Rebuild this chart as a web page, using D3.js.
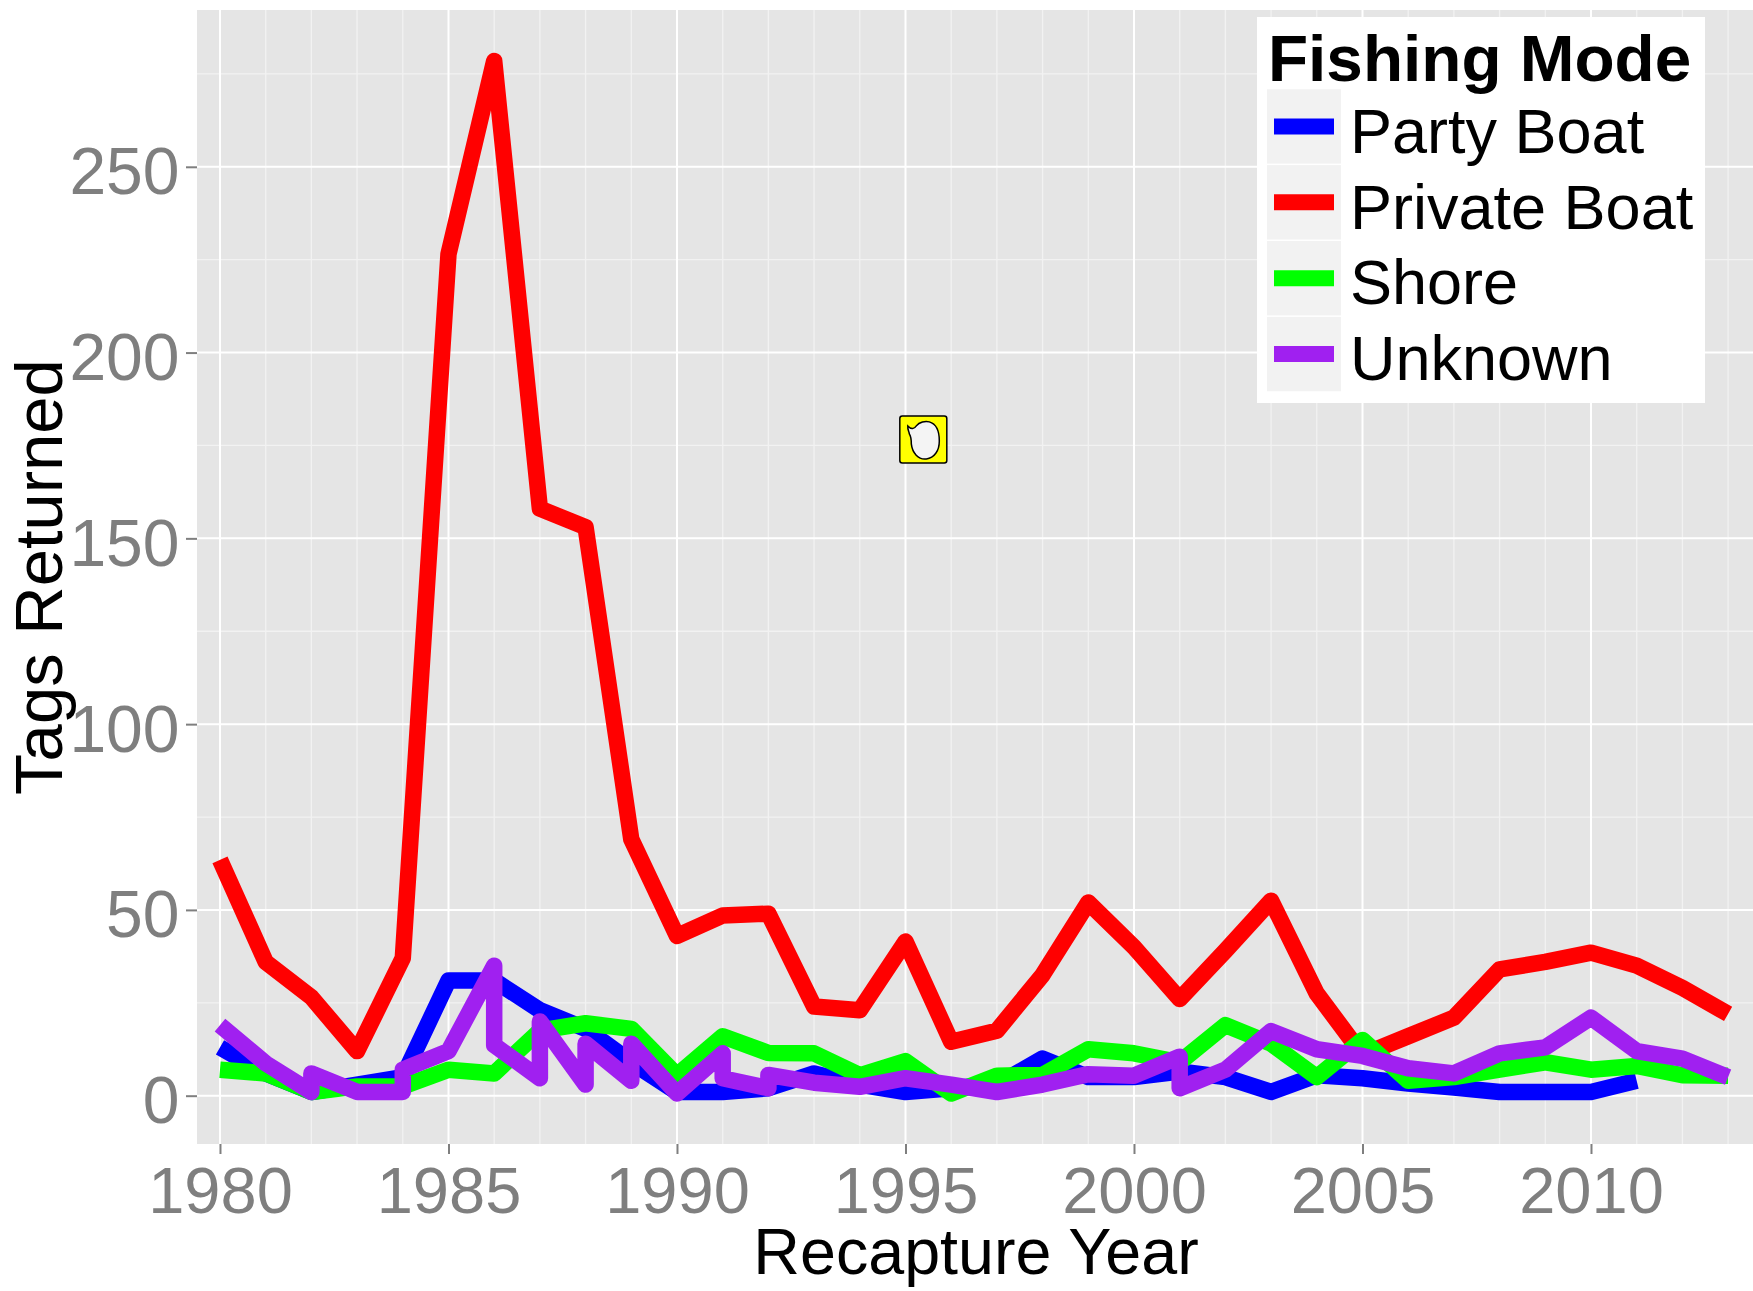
<!DOCTYPE html>
<html>
<head>
<meta charset="utf-8">
<script src="https://cdn.jsdelivr.net/npm/d3@7"></script>
<style>
  body { margin: 0; background: #fff; }
  text { font-family: "Liberation Sans", Arial, sans-serif; }
</style>
</head>
<body>
<div id="chart"></div>
<script>
const years = d3.range(1980, 2014);
const xTicks = [1980, 1985, 1990, 1995, 2000, 2005, 2010];
const yTicks = [0, 50, 100, 150, 200, 250];
const yMinor = [25, 75, 125, 175, 225, 275];
const modes = ['Party Boat', 'Private Boat', 'Shore', 'Unknown'];
const colors = ['#0000ff', '#ff0000', '#00ff00', '#a020f0'];

const partyYears = d3.range(1980, 2012);
const partyBoat = [13, 6, 1, 3, 5, 31, 31, 23, 18, 9, 1, 1, 2, 6, 3, 1, 2, 3, 10, 5, 5, 6.5, 5, 1, 5.5, 4.7, 3.3, 2.2, 1, 1, 1, 4];
const privateBoat = [63.5, 36, 26.5, 12, 37, 226.5, 278.5, 158, 153, 69, 43, 48.5, 49, 24, 23, 41.5, 14.5, 17.5, 32.5, 52, 40, 26, 39, 52.5, 27.5, 11, 16, 21, 34, 36, 38.5, 35, 29, 22];
const shore = [7, 6, 1, 2.5, 2.5, 7, 6, 17.5, 19.5, 18, 5.5, 16, 11.5, 11.4, 5.5, 9.3, 0.6, 5.4, 5.6, 12.5, 11.4, 9, 19, 14, 5, 15, 4, 5, 7, 9, 7, 8, 5.5, 5.4];
// Unknown has two rows for some years, so the line doubles back on itself
const unknownYears = [1980, 1981, 1982, 1982, 1983, 1984, 1984, 1985, 1986, 1986, 1987, 1987, 1988, 1988, 1989, 1989, 1990, 1991, 1991, 1992, 1992, 1993, 1994, 1995, 1996, 1997, 1998, 1999, 2000, 2001, 2001, 2002, 2003, 2004, 2005, 2006, 2007, 2008, 2009, 2010, 2011, 2012, 2013];
const unknown = [19, 8.7, 1, 6, 1, 1, 7, 12, 35, 13.6, 4.7, 20, 3, 14, 4, 14, 0.6, 11.4, 4.7, 2, 5.6, 3.5, 2.4, 4.7, 3, 1, 3, 5.8, 5.4, 10.5, 2, 7, 17.4, 12.5, 10.7, 7.4, 6, 11.4, 13, 21, 12, 10, 5];

const width = 1753;
const height = 1291;
const panel = { left: 197, right: 1753, top: 10, bottom: 1144 };

const svg = d3.select('#chart')
  .append('svg')
  .attr('width', width)
  .attr('height', height)
  .style('display', 'block');

const x = d3.scaleLinear()
  .domain([1979.497, 2013.545])
  .range([panel.left, panel.right]);

const y = d3.scaleLinear()
  .domain([-13, 292.2])
  .range([panel.bottom, panel.top]);

svg.append('rect')
  .attr('x', panel.left)
  .attr('y', panel.top)
  .attr('width', panel.right - panel.left)
  .attr('height', panel.bottom - panel.top)
  .attr('fill', '#e5e5e5');

// minor grid
svg.append('g').selectAll('line')
  .data(years.filter(d => !xTicks.includes(d)))
  .join('line')
    .attr('x1', d => x(d)).attr('x2', d => x(d))
    .attr('y1', panel.top).attr('y2', panel.bottom)
    .attr('stroke', '#f2f2f2').attr('stroke-width', 1.3);

svg.append('g').selectAll('line')
  .data(yMinor)
  .join('line')
    .attr('x1', panel.left).attr('x2', panel.right)
    .attr('y1', d => y(d)).attr('y2', d => y(d))
    .attr('stroke', '#f2f2f2').attr('stroke-width', 1.3);

// major grid
svg.append('g').selectAll('line')
  .data(xTicks)
  .join('line')
    .attr('x1', d => x(d)).attr('x2', d => x(d))
    .attr('y1', panel.top).attr('y2', panel.bottom)
    .attr('stroke', '#fff').attr('stroke-width', 2);

svg.append('g').selectAll('line')
  .data(yTicks)
  .join('line')
    .attr('x1', panel.left).attr('x2', panel.right)
    .attr('y1', d => y(d)).attr('y2', d => y(d))
    .attr('stroke', '#fff').attr('stroke-width', 2);

// axes
function xAxis(g) {
  g.attr('transform', `translate(0,${panel.bottom})`)
    .call(d3.axisBottom(x).tickValues(xTicks).tickFormat(d3.format('d')).tickSize(10).tickPadding(13))
    .call(g => g.select('.domain').remove());
  g.selectAll('line').attr('stroke', '#7f7f7f').attr('stroke-width', 2);
  g.selectAll('text').attr('fill', '#7f7f7f').attr('font-size', 65).attr('font-family', '"Liberation Sans", Arial, sans-serif');
}

function yAxis(g) {
  g.attr('transform', `translate(${panel.left},0)`)
    .call(d3.axisLeft(y).tickValues(yTicks).tickSize(11).tickPadding(6.5))
    .call(g => g.select('.domain').remove());
  g.selectAll('line').attr('stroke', '#7f7f7f').attr('stroke-width', 2);
  g.selectAll('text').attr('fill', '#7f7f7f').attr('font-size', 66).attr('font-family', '"Liberation Sans", Arial, sans-serif').attr('dy', '0.41em');
}

svg.append('g').call(xAxis);
svg.append('g').call(yAxis);

// series, drawn in legend order
const seriesYears = [partyYears, years, years, unknownYears];
const seriesValues = [partyBoat, privateBoat, shore, unknown];

const line = d3.line()
  .x(d => x(d[0]))
  .y(d => y(d[1]));

svg.append('g').selectAll('path')
  .data(modes)
  .join('path')
    .attr('d', (d, i) => line(d3.zip(seriesYears[i], seriesValues[i])))
    .attr('fill', 'none')
    .attr('stroke', (d, i) => colors[i])
    .attr('stroke-width', 16.5)
    .attr('stroke-linejoin', 'round')
    .attr('stroke-linecap', 'butt');

// axis titles
svg.append('text')
  .attr('x', 976)
  .attr('y', 1274)
  .attr('text-anchor', 'middle')
  .attr('font-size', 64.6)
  .text('Recapture Year');

svg.append('text')
  .attr('transform', 'translate(62,577) rotate(-90)')
  .attr('text-anchor', 'middle')
  .attr('font-size', 67)
  .text('Tags Returned');

// yellow speech bubble sitting on the plot
const bubble = svg.append('g')
  .attr('transform', `translate(${x(1995.39)},${y(176.5)})`);

bubble.append('rect')
  .attr('x', -23.5).attr('y', -24)
  .attr('width', 47).attr('height', 47)
  .attr('rx', 2.5)
  .attr('fill', '#ffff00')
  .attr('stroke', '#000')
  .attr('stroke-width', 1.5);

bubble.append('path')
  .attr('d', 'M-15.5,-14 C-12,-10 -9,-11 -7,-14 C-4,-18 2,-19 6,-18 C13,-16 16,-8 16,1 C16,11 11,18 3,19 C-5,20 -11,13 -12,4 C-12,-1 -12,-3 -14,-6 C-14,-8 -16,-10 -15.5,-14 Z')
  .attr('fill', '#f4f4f4')
  .attr('stroke', '#000')
  .attr('stroke-width', 1.5);

// legend
const legend = svg.append('g');

legend.append('rect')
  .attr('x', 1257).attr('y', 17)
  .attr('width', 448).attr('height', 386)
  .attr('fill', '#fff');

legend.append('text')
  .attr('x', 1268).attr('y', 81)
  .attr('font-size', 65.7)
  .attr('font-weight', 'bold')
  .text('Fishing Mode');

const keyTop = d3.scaleBand()
  .domain(modes)
  .range([88.5, 392]);

const rows = legend.selectAll('g.row')
  .data(modes)
  .join('g')
    .attr('class', 'row')
    .attr('transform', d => `translate(0,${keyTop(d)})`);

rows.append('rect')
  .attr('x', 1267)
  .attr('width', 74)
  .attr('y', 0.75)
  .attr('height', keyTop.bandwidth() - 1.5)
  .attr('fill', '#f2f2f2');

rows.append('line')
  .attr('x1', 1274).attr('x2', 1334)
  .attr('y1', keyTop.bandwidth() / 2).attr('y2', keyTop.bandwidth() / 2)
  .attr('stroke', (d, i) => colors[i])
  .attr('stroke-width', 16);

rows.append('text')
  .attr('x', 1350)
  .attr('y', keyTop.bandwidth() / 2 + 26.3)
  .attr('font-size', 63)
  .text(d => d);
</script>
</body>
</html>
